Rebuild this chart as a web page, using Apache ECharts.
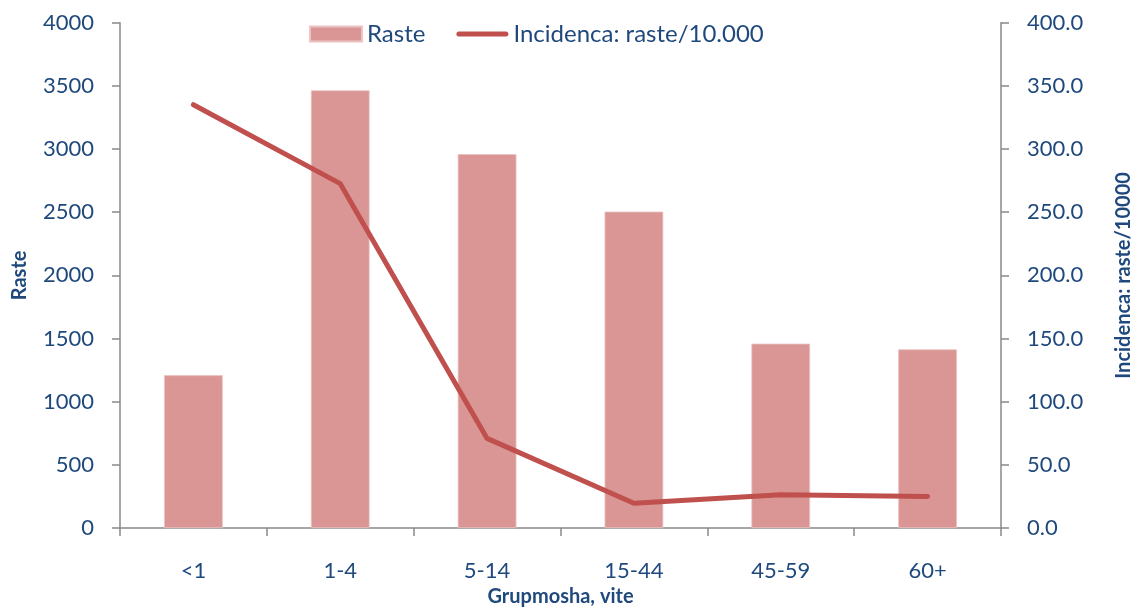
<!DOCTYPE html>
<html>
<head>
<meta charset="utf-8">
<script src="https://cdn.jsdelivr.net/npm/echarts@6/dist/echarts.min.js"></script>
<style>html,body{margin:0;padding:0;background:#fff}#c{width:1142px;height:612px}</style>
</head>
<body>
<div id="c"></div>
<script>
const categories = ['<1', '1-4', '5-14', '15-44', '45-59', '60+'];
const rasteValues = [1210, 3465, 2960, 2505, 1460, 1415];
const incidenceValues = [335.1, 272.6, 71.0, 19.7, 26.3, 25.0];
const leftTicks = [0, 500, 1000, 1500, 2000, 2500, 3000, 3500, 4000];
const rightTicks = [0, 50, 100, 150, 200, 250, 300, 350, 400];

const txt = '#1F497D';
const axisGray = '#898989';
const font = 'Lato';

const chart = echarts.init(document.getElementById('c'), null, {renderer: 'canvas'});
chart.setOption({
  animation: false,
  textStyle: {fontFamily: font},
  legend: {
    top: 17,
    left: 304,
    itemGap: 31,
    itemWidth: 52,
    itemHeight: 15,
    textStyle: {color: txt, fontSize: 24, fontFamily: font},
    data: [
      {name: 'Raste', icon: 'rect'},
      {name: 'Incidenca: raste/10.000', icon: 'path://M2.5,0H49.5A2.5,2.5,0,0,1,49.5,5H2.5A2.5,2.5,0,0,1,2.5,0Z',
       itemStyle: {color: '#C0504D'}}
    ]
  },
  grid: {left: 120, right: 137, top: 22.7, bottom: 82, containLabel: false},
  xAxis: {
    type: 'category',
    data: categories,
    name: 'Grupmosha, vite',
    nameLocation: 'middle',
    nameGap: 58,
    nameTextStyle: {color: txt, fontSize: 20, fontWeight: 'bold', fontFamily: font},
    axisLine: {lineStyle: {color: axisGray, width: 1.5}},
    axisTick: {show: true, length: 8, alignWithLabel: false, lineStyle: {color: axisGray, width: 1.5}},
    axisLabel: {color: txt, fontSize: 22, margin: 32, fontFamily: font}
  },
  yAxis: [
    {
      type: 'value',
      min: 0, max: 4000, interval: 500,
      name: 'Raste',
      nameLocation: 'middle',
      nameRotate: 90,
      nameGap: 90,
      nameTextStyle: {color: txt, fontSize: 20, fontWeight: 'bold', fontFamily: font},
      axisLine: {show: true, lineStyle: {color: axisGray, width: 1.5}},
      axisTick: {show: true, length: 8, lineStyle: {color: axisGray, width: 1.5}},
      splitLine: {show: false},
      axisLabel: {color: txt, fontSize: 22, margin: 26, fontFamily: font,
        formatter: v => leftTicks.includes(v) ? String(v) : ''}
    },
    {
      type: 'value',
      min: 0, max: 400, interval: 50,
      position: 'right',
      name: 'Incidenca: raste/10000',
      nameLocation: 'middle',
      nameRotate: 90,
      nameGap: 113,
      nameTextStyle: {color: txt, fontSize: 20, fontWeight: 'bold', fontFamily: font},
      axisLine: {show: true, lineStyle: {color: axisGray, width: 1.5}},
      axisTick: {show: true, length: 8, lineStyle: {color: axisGray, width: 1.5}},
      splitLine: {show: false},
      axisLabel: {color: txt, fontSize: 22, margin: 26, fontFamily: font,
        formatter: v => rightTicks.includes(v) ? v.toFixed(1) : ''}
    }
  ],
  series: [
    {
      name: 'Raste',
      type: 'bar',
      data: rasteValues,
      barWidth: '40%',
      itemStyle: {color: '#D99694', borderColor: '#EBC4C3', borderWidth: 0.8},
      yAxisIndex: 0
    },
    {
      name: 'Incidenca: raste/10.000',
      type: 'line',
      data: incidenceValues,
      yAxisIndex: 1,
      symbol: 'none',
      showSymbol: false,
      lineStyle: {color: '#C0504D', width: 5, cap: 'round', join: 'round'},
      itemStyle: {color: '#C0504D'}
    }
  ]
});
</script>
</body>
</html>
